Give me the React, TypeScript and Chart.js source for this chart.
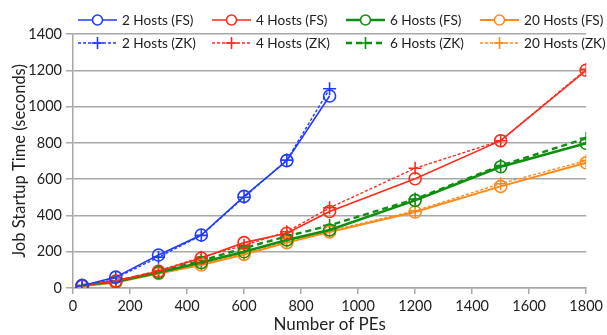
import React, { useEffect, useRef } from "react";
import { Chart, registerables } from "chart.js";

Chart.register(...registerables);

const peCounts = [32, 150, 300, 450, 600, 750, 900, 1200, 1500, 1800];
const xTicks = [0, 200, 400, 600, 800, 1000, 1200, 1400, 1600, 1800];
const yTicks = [0, 200, 400, 600, 800, 1000, 1200, 1400];

const hosts2FS = [12, 60, 182, 292, 505, 702, 1058];
const hosts2ZK = [10, 55, 170, 290, 500, 705, 1098];
const hosts4FS = [12, 38, 92, 165, 250, 302, 422, 602, 812, 1200];
const hosts4ZK = [12, 40, 95, 170, 235, 310, 442, 660, 812, 1205];
const hosts6FS = [15, 35, 85, 140, 200, 265, 320, 483, 668, 798];
const hosts6ZK = [15, 38, 90, 150, 220, 285, 345, 490, 675, 825];
const hosts20FS = [10, 30, 80, 127, 185, 250, 309, 419, 560, 690];
const hosts20ZK = [10, 32, 82, 132, 190, 255, 315, 425, 575, 702];

const seriesLabels = [
  "2 Hosts (FS)", "4 Hosts (FS)", "6 Hosts (FS)", "20 Hosts (FS)",
  "2 Hosts (ZK)", "4 Hosts (ZK)", "6 Hosts (ZK)", "20 Hosts (ZK)",
];
const seriesValues = [hosts2FS, hosts4FS, hosts6FS, hosts20FS, hosts2ZK, hosts4ZK, hosts6ZK, hosts20ZK];
const colors = ["#1f3cff", "#ff2a1a", "#0f8f0f", "#ff8a1c"];
const lineWidths = [1.6, 1.6, 2.6, 2.0];

const FONT = "Lato, 'Open Sans', sans-serif";

const legendPlugin = {
  id: "customLegend",
  afterDraw(chart: any) {
    const ctx = chart.ctx;
    const colX = [78, 212, 346, 480];
    const rowY = [20, 43];
    chart.data.datasets.forEach((ds: any, i: number) => {
      const col = i % 4;
      const row = Math.floor(i / 4);
      const x = colX[col];
      const y = rowY[row];
      ctx.save();
      ctx.strokeStyle = ds.borderColor;
      ctx.lineWidth = ds.borderWidth;
      ctx.setLineDash(ds.borderDash || []);
      ctx.beginPath();
      ctx.moveTo(x, y);
      ctx.lineTo(x + 39, y);
      ctx.stroke();
      ctx.setLineDash([]);
      ctx.lineWidth = 1.6;
      const cx = x + 19.5;
      if (ds.pointStyle === "circle") {
        ctx.fillStyle = "#fff";
        ctx.beginPath();
        ctx.arc(cx, y, 5, 0, Math.PI * 2);
        ctx.fill();
        ctx.stroke();
      } else {
        ctx.beginPath();
        ctx.moveTo(cx - 6, y);
        ctx.lineTo(cx + 6, y);
        ctx.moveTo(cx, y - 6);
        ctx.lineTo(cx, y + 6);
        ctx.stroke();
      }
      ctx.fillStyle = "#222";
      ctx.font = `13.6px ${FONT}`;
      ctx.textBaseline = "middle";
      ctx.textAlign = "left";
      ctx.fillText(ds.label, x + 44, y + 1);
      ctx.restore();
    });
  },
};

export default function App() {
  const ref = useRef<HTMLCanvasElement | null>(null);
  useEffect(() => {
    document.body.style.margin = "0";
    const datasets = seriesLabels.map((label, i) => {
      const k = i % 4;
      const zk = i >= 4;
      const vals = seriesValues[i];
      return {
        label,
        data: vals.map((v, j) => ({ x: peCounts[j], y: v })),
        borderColor: colors[k],
        backgroundColor: "rgba(255,255,255,0)",
        borderWidth: zk ? (k === 2 ? 2.4 : 1.4) : lineWidths[k],
        borderDash: zk ? (k === 2 ? [6, 4] : [3, 2]) : [],
        pointStyle: zk ? "cross" : "circle",
        pointRadius: zk ? 6.5 : 6,
        pointBorderWidth: 1.6,
        pointBorderColor: colors[k],
        pointBackgroundColor: "rgba(255,255,255,0)",
        tension: 0,
      };
    });
    const chart = new Chart(ref.current as HTMLCanvasElement, {
      type: "line",
      data: { datasets },
      options: {
        animation: false,
        responsive: false,
        devicePixelRatio: 1,
        layout: { padding: { top: 34, right: 15, left: 0, bottom: 0 } },
        plugins: { legend: { display: false }, tooltip: { enabled: false } },
        scales: {
          x: {
            type: "linear",
            min: 0,
            max: 1800,
            afterBuildTicks: (s: any) => { s.ticks = xTicks.map((v) => ({ value: v })); },
            afterFit: (s: any) => { s.height = 47; },
            grid: { drawOnChartArea: false, drawTicks: true, tickLength: 6, color: "#a8a8a8", lineWidth: 1.5 },
            border: { display: true, color: "#a8a8a8", width: 1.5 },
            ticks: { color: "#222", font: { family: FONT, size: 14.5 }, padding: 4, maxRotation: 0, callback: (v: any) => String(v) },
            title: { display: true, text: "Number of PEs", color: "#222", font: { family: FONT, size: 17 }, padding: { top: 2, bottom: 0 } },
          },
          y: {
            type: "linear",
            min: 0,
            max: 1400,
            afterBuildTicks: (s: any) => { s.ticks = yTicks.map((v) => ({ value: v })); },
            afterFit: (s: any) => { s.width = 73; },
            grid: { drawTicks: true, tickLength: 7, color: "#a8a8a8", lineWidth: 1.5 },
            border: { display: true, color: "#a8a8a8", width: 1.5 },
            ticks: { color: "#222", font: { family: FONT, size: 14.5 }, padding: 4, callback: (v: any) => String(v) },
            title: { display: true, text: "Job Startup Time (seconds)", color: "#222", font: { family: FONT, size: 16.5 }, padding: { top: 10, bottom: 0 } },
          },
        },
      },
      plugins: [legendPlugin],
    } as any);
    return () => chart.destroy();
  }, []);
  return (
    <div style={{ position: "absolute", left: 0, top: 0, width: 607, height: 335 }}>
      <canvas ref={ref} width={607} height={335} />
    </div>
  );
}
